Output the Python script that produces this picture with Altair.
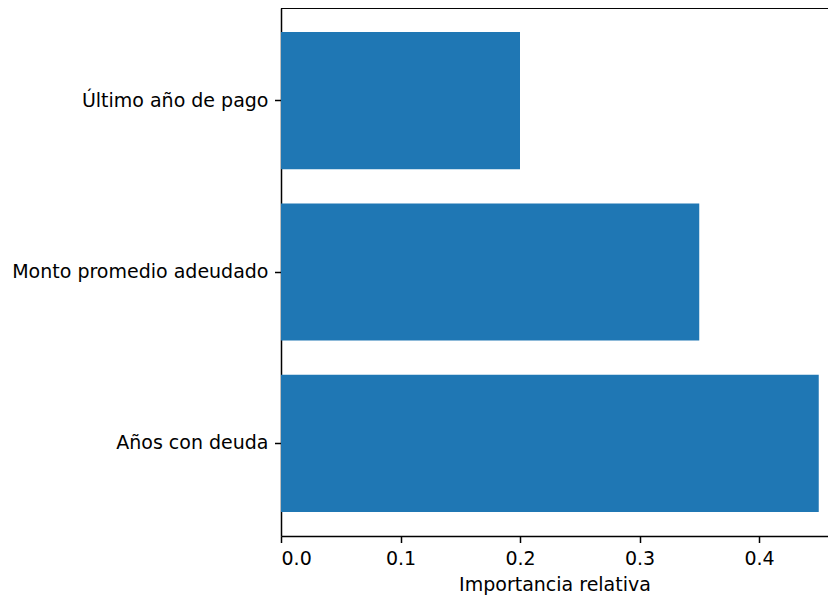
import altair as alt
import pandas as pd

categorias = ["Último año de pago", "Monto promedio adeudado", "Años con deuda"]
importancia = [0.20, 0.35, 0.45]
ticks_x = [0.0, 0.1, 0.2, 0.3, 0.4]

df = pd.DataFrame({"variable": categorias, "importancia": importancia})

W, H = 547, 528
XMAX = W / 1195.0
FONT = "DejaVu Sans"
FS = 19

bars = alt.Chart(df).mark_bar(color="#1f77b4").encode(
    y=alt.Y(
        "variable:N",
        sort=categorias,
        scale=alt.Scale(paddingInner=0.2, paddingOuter=0.14),
        axis=alt.Axis(
            title=None,
            labelFont=FONT,
            labelFontSize=FS,
            labelColor="#000000",
            labelPadding=6.5,
            tickSize=6.5,
            tickColor="#000000",
            tickWidth=1.5,
            domainColor="#000000",
            domainWidth=1.5,
            labelLimit=400,
        ),
    ),
    x=alt.X(
        "importancia:Q",
        scale=alt.Scale(domain=[0, XMAX], nice=False, zero=True),
        axis=alt.Axis(
            title="Importancia relativa",
            values=ticks_x,
            format=".1f",
            labelFont=FONT,
            labelFontSize=FS,
            labelColor="#000000",
            labelPadding=6.5,
            tickSize=6.5,
            tickColor="#000000",
            tickWidth=1.5,
            domainColor="#000000",
            domainWidth=1.5,
            grid=False,
            titleFont=FONT,
            titleFontSize=FS,
            titleFontWeight="normal",
            titleColor="#000000",
            titlePadding=7,
        ),
    ),
)

top_spine = alt.Chart(df).mark_rule(color="#000000", strokeWidth=1.5).encode(
    x=alt.value(0), x2=alt.value(W), y=alt.value(0)
)

chart = (
    alt.layer(bars, top_spine)
    .properties(
        width=W,
        height=H,
        autosize=alt.AutoSizeParams(type="none"),
        padding={"left": 273, "top": 0, "right": 0, "bottom": 60},
    )
    .configure_view(stroke=None)
)

chart.save("out.html", embed_options={"renderer": "svg", "actions": False})
